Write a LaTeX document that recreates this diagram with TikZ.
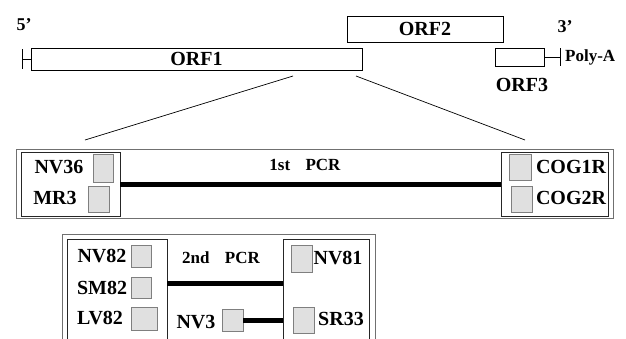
\documentclass[tikz,border=0pt]{standalone}
\usepackage{fontspec}
\setmainfont{Liberation Serif}
\definecolor{sqfill}{HTML}{E0E0E0}
\definecolor{sqdraw}{HTML}{7F7F7F}
\definecolor{framegray}{HTML}{707070}
\tikzset{
  orf/.style={draw, line width=0.8pt, inner sep=0pt, font=\bfseries\fontsize{20}{20}\selectfont},
  lab/.style={inner sep=0pt, font=\bfseries\fontsize{20}{20}\selectfont},
  smalllab/.style={inner sep=0pt, font=\bfseries\fontsize{17}{17}\selectfont},
  primer/.style={draw=sqdraw, fill=sqfill, line width=0.8pt, inner sep=0pt},
  group/.style={draw=black!85, line width=0.8pt, inner sep=0pt},
  frame/.style={draw=framegray, line width=1pt, inner sep=0pt},
  pcrbar/.style={line width=5pt},
}
\begin{document}
\begin{tikzpicture}[x=1pt,y=-1pt]
  \useasboundingbox (0,0) rectangle (626,338);
  \clip (0,0) rectangle (626,338);

  % genome
  \node[orf, minimum width=331pt, minimum height=22pt] (orf1) at (196.5,59) {ORF1};
  \node[orf, minimum width=156pt, minimum height=26pt] (orf2) at (425,29) {ORF2};
  \node[orf, minimum width=49pt, minimum height=18pt] (orf3) at (519.5,57) {};
  \node[lab] (orf3lab) at (522,85) {ORF3};
  \node[lab, font=\bfseries\fontsize{18}{18}\selectfont] (end5) at (24,25) {5’};
  \node[lab, font=\bfseries\fontsize{18}{18}\selectfont] (end3) at (565,27) {3’};
  \node[smalllab, anchor=west] (polyA) at (565,57) {Poly-A};

  \coordinate (cap5) at (22,59);
  \coordinate (cap3) at (560,57);
  \draw[line width=0.8pt] (cap5) -- (orf1.west);
  \draw[line width=0.8pt] ([yshift=10pt]cap5) -- ([yshift=-10pt]cap5);
  \draw[line width=0.8pt] (orf3.east) -- (cap3);
  \draw[line width=0.8pt] ([yshift=9pt]cap3) -- ([yshift=-9pt]cap3);

  % zoom
  \coordinate (zoomA) at (293,76);
  \coordinate (zoomB) at (356,76);
  \coordinate (zoomC) at (85,140);
  \coordinate (zoomD) at (525,140);
  \draw[line width=0.7pt] (zoomA) -- (zoomC);
  \draw[line width=0.7pt] (zoomB) -- (zoomD);

  % 1st PCR
  \node[frame, minimum width=597pt, minimum height=69pt] (pcr1) at (314.5,183.5) {};
  \node[group, minimum width=99pt, minimum height=64pt] (left1) at (70.5,184) {};
  \node[group, minimum width=107pt, minimum height=64pt] (right1) at (554.5,184) {};

  \begin{scope}[every node/.style={primer}]
    \node[minimum width=20pt, minimum height=28pt] (sqNVtf) at (103,168) {};
    \node[minimum width=21pt, minimum height=26pt] (sqMR) at (98.5,199) {};
    \node[minimum width=22pt, minimum height=26pt] (sqCOGa) at (520,167) {};
    \node[minimum width=21pt, minimum height=26pt] (sqCOGb) at (521.5,199) {};
  \end{scope}

  \begin{scope}[every node/.style={lab}]
    \node (nv36) at (59,167) {NV36};
    \node (mr3) at (55,198) {MR3};
    \node (cog1r) at (571,167) {COG1R};
    \node (cog2r) at (571,198) {COG2R};
  \end{scope}
  \node[smalllab] (pcr1lab) at (305,165) {1st\hspace{0.9em}PCR};
  \draw[pcrbar] (left1.east) -- (right1.west);

  % 2nd PCR
  \node[frame, minimum width=313pt, minimum height=166pt] (pcr2) at (218.5,317) {};
  \node[group, minimum width=100pt, minimum height=161pt] (left2) at (117,319.5) {};
  \node[group, minimum width=86pt, minimum height=161pt] (right2) at (326,319.5) {};

  \begin{scope}[every node/.style={primer}]
    \node[minimum width=20pt, minimum height=22pt] (sqNVee) at (141,256) {};
    \node[minimum width=20pt, minimum height=21pt] (sqSM) at (141,287.5) {};
    \node[minimum width=26pt, minimum height=23pt] (sqLV) at (144,318.5) {};
    \node[minimum width=21pt, minimum height=22pt] (sqNVt) at (232.5,320) {};
    \node[minimum width=21pt, minimum height=27pt] (sqNVeo) at (301.5,258.5) {};
    \node[minimum width=21pt, minimum height=26pt] (sqSR) at (303.5,320) {};
  \end{scope}

  \begin{scope}[every node/.style={lab}]
    \node (nv82) at (102,256) {NV82};
    \node (sm82) at (102,288) {SM82};
    \node (lv82) at (100,318) {LV82};
    \node (nv3) at (196,322) {NV3};
    \node (nv81) at (338,258) {NV81};
    \node (sr33) at (341,319) {SR33};
  \end{scope}
  \node[smalllab] (pcr2lab) at (221,258) {2nd\hspace{0.9em}PCR};

  \coordinate (bar2) at (225,283);
  \draw[pcrbar] (left2.east |- bar2) -- (right2.west |- bar2);
  \draw[pcrbar] (sqNVt.east) -- (right2.west |- sqNVt);

\end{tikzpicture}
\end{document}
